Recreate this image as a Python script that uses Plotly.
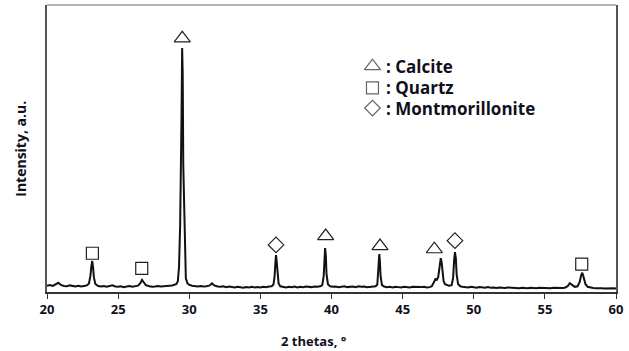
import plotly.graph_objects as go

# XRD pattern (2-theta in degrees, intensity in arbitrary units)
two_theta = [
    20.0, 20.2, 20.4, 20.6, 20.8, 20.9, 21.0, 21.2, 21.4, 21.6, 21.8, 22.0, 22.2, 22.4, 22.6, 22.8,
    22.95, 23.05, 23.12, 23.18, 23.24, 23.3, 23.4, 23.6, 23.8, 24.0, 24.2, 24.4, 24.6, 24.8,
    25.0, 25.2, 25.4, 25.6, 25.8, 26.0, 26.2, 26.4, 26.55, 26.68, 26.8, 26.95, 27.2, 27.4, 27.6,
    27.8, 28.0, 28.2, 28.4, 28.6, 28.8, 29.0, 29.1, 29.2, 29.28, 29.36, 29.42, 29.46, 29.5,
    29.54, 29.58, 29.63, 29.69, 29.76, 29.88, 30.0, 30.2, 30.4, 30.6, 30.8, 31.0, 31.2, 31.4,
    31.6, 31.75, 32.0, 32.2, 32.4, 32.6, 32.8, 33.0, 33.2, 33.4, 33.6, 33.8, 34.0, 34.2, 34.4,
    34.6, 34.8, 35.0, 35.2, 35.4, 35.6, 35.8, 35.92, 36.0, 36.06, 36.1, 36.14, 36.2, 36.28,
    36.4, 36.6, 36.8, 37.0, 37.2, 37.4, 37.6, 37.8, 38.0, 38.2, 38.4, 38.6, 38.8, 39.0, 39.2,
    39.35, 39.45, 39.5, 39.55, 39.6, 39.65, 39.75, 39.9, 40.1, 40.3, 40.5, 40.7, 40.9, 41.1,
    41.3, 41.5, 41.7, 41.9, 42.1, 42.3, 42.5, 42.7, 42.9, 43.1, 43.22, 43.28, 43.32, 43.36,
    43.4, 43.45, 43.55, 43.7, 43.9, 44.1, 44.3, 44.5, 44.7, 44.9, 45.1, 45.3, 45.5, 45.7, 45.9,
    46.1, 46.3, 46.5, 46.7, 46.9, 47.05, 47.18, 47.3, 47.4, 47.5, 47.6, 47.68, 47.74, 47.8,
    47.88, 47.98, 48.1, 48.25, 48.45, 48.55, 48.62, 48.68, 48.74, 48.8, 48.9, 49.05, 49.2,
    49.4, 49.6, 49.8, 50.0, 50.2, 50.4, 50.6, 50.8, 51.0, 51.2, 51.4, 51.6, 51.8, 52.0, 52.2,
    52.4, 52.6, 52.8, 53.0, 53.2, 53.4, 53.6, 53.8, 54.0, 54.2, 54.4, 54.6, 54.8, 55.0, 55.2,
    55.4, 55.6, 55.8, 56.0, 56.2, 56.4, 56.6, 56.75, 56.9, 57.1, 57.3, 57.45, 57.55, 57.63,
    57.72, 57.85, 58.0, 58.2, 58.4, 58.6, 58.8, 59.0, 59.2, 59.4, 59.6, 59.8, 60.0,
]
intensity = [
    22, 24, 21, 26, 32, 28, 24, 21, 20, 23, 20, 19, 22, 19, 21, 23,
    30, 55, 90, 108, 85, 50, 28, 21, 19, 21, 18, 21, 23, 19,
    18, 20, 17, 19, 21, 18, 20, 22, 30, 42, 34, 24, 20, 18, 19,
    21, 19, 20, 22, 21, 23, 26, 28, 38, 87, 233, 400, 624, 850,
    760, 442, 300, 129, 48, 30, 25, 22, 20, 19, 21, 19, 20, 22,
    30, 23, 19, 18, 20, 17, 19, 18, 16, 18, 17, 15, 17, 16, 18,
    16, 17, 16, 18, 17, 19, 20, 26, 55, 105, 129, 110, 60, 30,
    20, 17, 16, 18, 17, 19, 16, 18, 17, 19, 18, 17, 19, 18, 20,
    24, 55, 120, 153, 128, 62, 27, 20, 18, 19, 17, 18, 20, 17,
    18, 19, 17, 20, 18, 19, 17, 18, 19, 20, 26, 60, 110, 132,
    108, 55, 24, 19, 17, 18, 16, 18, 17, 16, 18, 17, 16, 18, 17,
    16, 17, 18, 16, 17, 20, 32, 45, 42, 52, 88, 118, 105, 70,
    38, 27, 24, 22, 24, 50, 110, 139, 118, 60, 28, 20, 18,
    17, 16, 18, 16, 15, 17, 16, 15, 17, 15, 16, 14, 16, 15, 14,
    16, 15, 14, 15, 13, 15, 14, 13, 15, 14, 13, 15, 14, 13, 14,
    13, 15, 14, 13, 14, 15, 20, 31, 24, 18, 20, 35, 58, 67,
    52, 28, 18, 15, 14, 13, 14, 13, 12, 13, 12, 13, 12,
]

# Phase identification markers
calcite_x = [29.51, 39.59, 43.41, 47.23]
calcite_y = [884, 195, 160, 149]
quartz_x = [23.19, 26.66, 57.59]
quartz_y = [135, 82, 97]
montmorillonite_x = [36.10, 48.68]
montmorillonite_y = [164, 179]

legend_labels = [": Calcite", ": Quartz", ": Montmorillonite"]
legend_symbols = ["triangle-up-open", "square-open", "diamond-open"]
legend_sizes = [14, 12, 12]
legend_x = 42.88
legend_y = [787, 711, 641]

FONT = "Open Sans"
TXT = "#10101c"

fig = go.Figure()
fig.add_trace(go.Scatter(x=two_theta, y=intensity, mode="lines",
                         line=dict(color="#111111", width=2), showlegend=False,
                         hoverinfo="skip"))

mk = dict(color="#222222", line=dict(width=1.2, color="#222222"))
fig.add_trace(go.Scatter(x=calcite_x, y=calcite_y, mode="markers", showlegend=False,
                         marker=dict(symbol="triangle-up-open", size=14, **mk)))
fig.add_trace(go.Scatter(x=quartz_x, y=quartz_y, mode="markers", showlegend=False,
                         marker=dict(symbol="square-open", size=12, **mk)))
fig.add_trace(go.Scatter(x=montmorillonite_x, y=montmorillonite_y, mode="markers", showlegend=False,
                         marker=dict(symbol="diamond-open", size=12, **mk)))

fig.add_trace(go.Scatter(x=[legend_x] * 3, y=legend_y, mode="markers", showlegend=False,
                         marker=dict(symbol=legend_symbols, size=legend_sizes, **mk)))
for lbl, yy in zip(legend_labels, legend_y):
    fig.add_annotation(x=43.7, y=yy, xref="x", yref="y", text=lbl,
                       showarrow=False, xanchor="left", yanchor="middle",
                       font=dict(family=FONT, size=17, color=TXT, weight="bold"))

fig.add_annotation(x=0.47, y=-0.17, xref="paper", yref="paper", text="2 thetas, °",
                   showarrow=False, xanchor="center", yanchor="middle",
                   font=dict(family=FONT, size=13, color=TXT, weight="bold"))
fig.add_annotation(x=-0.047, y=0.5, xref="paper", yref="paper", text="Intensity, a.u.",
                   showarrow=False, textangle=-90, xanchor="center", yanchor="middle",
                   font=dict(family=FONT, size=14, color=TXT, weight="bold"))

fig.add_shape(type="line", xref="paper", yref="paper", x0=0, x1=1, y0=1, y1=1,
              line=dict(color="#9a9a9a", width=1.5))

fig.update_layout(
    width=629, height=351,
    margin=dict(l=47, r=13, t=5, b=59),
    paper_bgcolor="white", plot_bgcolor="white",
    xaxis=dict(range=[20, 60], tickmode="array", tickvals=[20, 25, 30, 35, 40, 45, 50, 55, 60],
               showline=True, linecolor="#333333", linewidth=1.5, ticks="outside", ticklen=5,
               tickcolor="#333333", tickwidth=1.2, showgrid=False, zeroline=False,
               tickfont=dict(family=FONT, size=13, color=TXT, weight="bold")),
    yaxis=dict(range=[0, 1000], showline=True, mirror=True, linecolor="#555555", linewidth=1.5,
               showticklabels=False, ticks="", showgrid=False, zeroline=False),
)

fig.write_html("out.html")
